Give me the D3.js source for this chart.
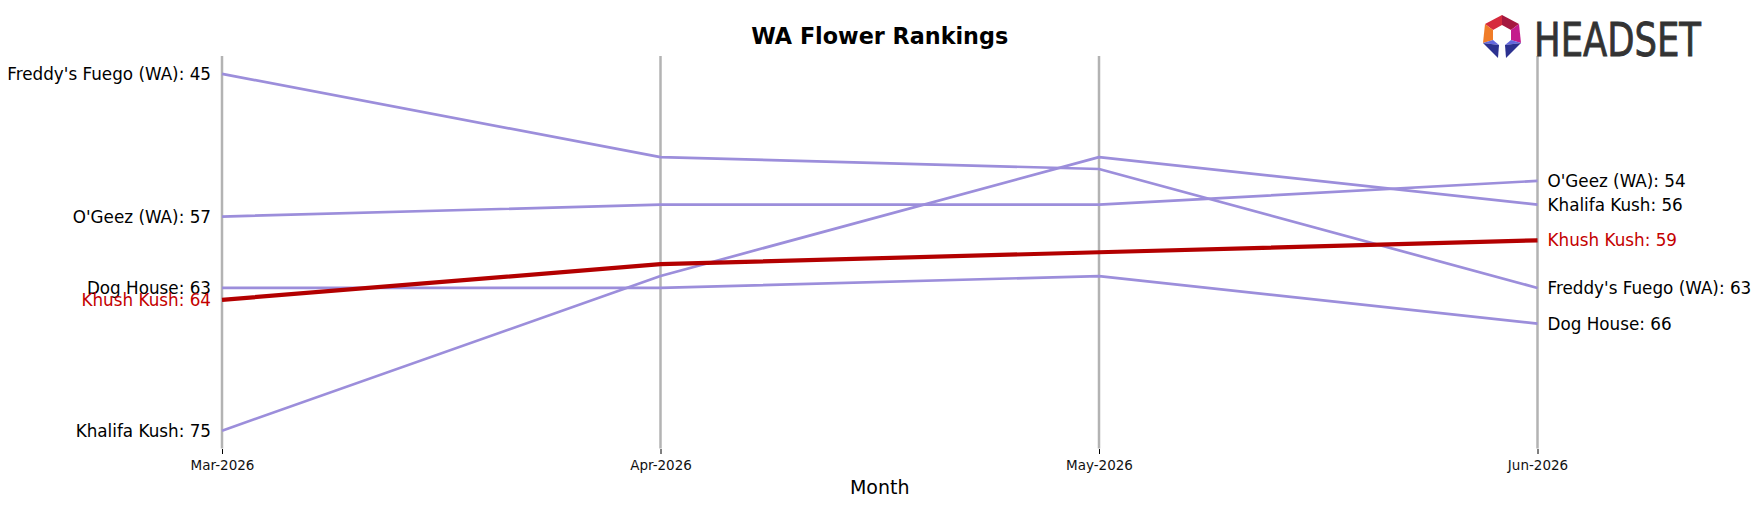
<!DOCTYPE html>
<html>
<head>
<meta charset="utf-8">
<script src="https://cdn.jsdelivr.net/npm/d3@7"></script>
<style>
  html, body { margin: 0; padding: 0; background: #fff; }
  svg { display: block; font-family: "DejaVu Sans", sans-serif; }
</style>
</head>
<body>
<div id="chart"></div>
<script>
const months = ["Mar-2026", "Apr-2026", "May-2026", "Jun-2026"]
const brands = ["Freddy's Fuego (WA)", "O'Geez (WA)", "Dog House", "Khush Kush", "Khalifa Kush"]
const freddysFuego = [45, 52, 53, 63]
const oGeez = [57, 56, 56, 54]
const dogHouse = [63, 63, 62, 66]
const khushKush = [64, 61, 60, 59]
const khalifaKush = [75, 62, 52, 56]
const highlight = "Khush Kush"

const series = [freddysFuego, oGeez, dogHouse, khushKush, khalifaKush].map((v, i) => ({
  name: brands[i],
  values: v.map((r, j) => ({ month: months[j], rank: r }))
}))

const width = 1759,
  height = 507,
  marginLeft = 222,
  marginRight = 221.5,
  marginTop = 56,
  plotBottom = 448.5

const purple = "#9c8edb"
const red = "#b30000"
const redText = "#c40000"

const x = d3.scalePoint().domain(months).range([marginLeft, width - marginRight])
const allRanks = series.flatMap(s => s.values.map(d => d.rank))
const y = d3
  .scaleLinear()
  .domain([d3.min(allRanks) - 1.5, d3.max(allRanks) + 1.5])
  .range([marginTop, plotBottom])

const svg = d3
  .create("svg")
  .attr("viewBox", [0, 0, width, height])
  .attr("width", width)
  .attr("height", height)

// month guides
svg
  .append("g")
  .selectAll("line")
  .data(months)
  .join("line")
  .attr("x1", d => x(d))
  .attr("x2", d => x(d))
  .attr("y1", y.range()[0])
  .attr("y2", y.range()[1])
  .attr("stroke", "#b3b3b3")
  .attr("stroke-width", 2.5)

const xAxis = d3.axisBottom(x).tickSizeInner(5).tickSizeOuter(0).tickPadding(6)
const gx = svg
  .append("g")
  .attr("transform", `translate(0, ${plotBottom + 0.5})`)
  .call(xAxis)
gx.select(".domain").remove()
gx.selectAll(".tick line").attr("stroke", "#000").attr("stroke-width", 1)
gx.selectAll(".tick text")
  .attr("font-family", "DejaVu Sans")
  .attr("font-size", 13.5)
  .attr("fill", "#111")

const line = d3
  .line()
  .x(d => x(d.month))
  .y(d => y(d.rank))

const ordered = [...series.filter(s => s.name !== highlight), ...series.filter(s => s.name === highlight)]

svg
  .append("g")
  .attr("fill", "none")
  .selectAll("path")
  .data(ordered)
  .join("path")
  .attr("d", s => line(s.values))
  .attr("stroke", s => (s.name === highlight ? red : purple))
  .attr("stroke-width", s => (s.name === highlight ? 4.2 : 2.7))
  .attr("stroke-linejoin", "round")

// labels, left and right
const first = months[0],
  last = months[months.length - 1]
svg
  .append("g")
  .attr("font-size", 16.8)
  .attr("text-anchor", "end")
  .selectAll("text")
  .data(series)
  .join("text")
  .attr("x", x(first) - 11)
  .attr("y", s => y(s.values[0].rank))
  .attr("dy", "0.36em")
  .attr("fill", s => (s.name === highlight ? redText : "#000"))
  .text(s => `${s.name}: ${s.values[0].rank}`)

svg
  .append("g")
  .attr("font-size", 16.8)
  .attr("text-anchor", "start")
  .selectAll("text")
  .data(series)
  .join("text")
  .attr("x", x(last) + 10)
  .attr("y", s => y(s.values[s.values.length - 1].rank))
  .attr("dy", "0.36em")
  .attr("fill", s => (s.name === highlight ? redText : "#000"))
  .text(s => `${s.name}: ${s.values[s.values.length - 1].rank}`)

// title + axis label
svg
  .append("text")
  .attr("x", (x.range()[0] + x.range()[1]) / 2)
  .attr("y", 44)
  .attr("text-anchor", "middle")
  .attr("font-weight", "bold")
  .attr("font-size", 22.3)
  .text("WA Flower Rankings")

svg
  .append("text")
  .attr("x", (x.range()[0] + x.range()[1]) / 2)
  .attr("y", 494)
  .attr("text-anchor", "middle")
  .attr("font-size", 19)
  .text("Month")

// logo
const logo = svg.append("g").attr("transform", "translate(1502, 37)")
const pieces = [
  { fill: "#d62a3c", pts: [[0, -22], [-17, -13], [-9, -7], [0, -12]] },
  { fill: "#a5183f", pts: [[0, -22], [0, -12], [9, -7], [17, -13]] },
  { fill: "#f07c28", pts: [[-17, -13], [-19, 6], [-9, 3], [-9, -7]] },
  { fill: "#c41c8c", pts: [[17, -13], [9, -7], [9, 3], [19, 6]] },
  { fill: "#6367de", pts: [[-19, 6], [-9, 3], [-3, 8]] },
  { fill: "#2c3190", pts: [[-19, 6], [-3, 8], [-4, 21]] },
  { fill: "#6367de", pts: [[19, 6], [9, 3], [3, 8]] },
  { fill: "#2c3190", pts: [[19, 6], [3, 8], [4, 21]] }
]
logo
  .selectAll("polygon")
  .data(pieces)
  .join("polygon")
  .attr("points", d => d.pts.map(p => p.join(",")).join(" "))
  .attr("fill", d => d.fill)

svg
  .append("text")
  .attr("x", 1534)
  .attr("y", 56)
  .attr("font-family", "Liberation Sans Narrow, DejaVu Sans Condensed, sans-serif")
  .attr("font-size", 47)
  .attr("fill", "#333")
  .attr("stroke", "#333")
  .attr("stroke-width", 0.8)
  .attr("textLength", 167)
  .attr("lengthAdjust", "spacingAndGlyphs")
  .text("HEADSET")

document.querySelector("#chart").append(svg.node())
</script>
</body>
</html>
